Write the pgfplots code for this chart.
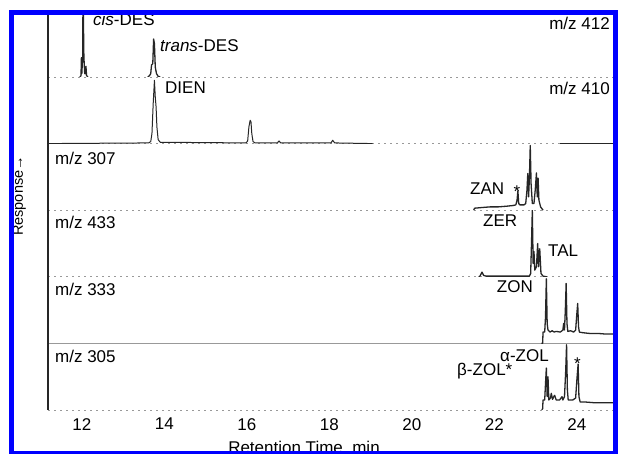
\documentclass[border=0pt]{standalone}
\usepackage{fontspec}
\setmainfont{Liberation Sans}
\usepackage{pgfplots}
\pgfplotsset{compat=1.18}
\newcommand{\lab}{\fontsize{17}{20}\selectfont}
\pgfplotsset{
 panel/.style={
  scale only axis, width=566pt, height=66.6pt,
  xmin=11.18, xmax=24.9, ymin=0, ymax=1,
  axis x line*=bottom, axis y line*=left,
  x axis line style={-, draw=gray!80, line width=0.8pt, dash pattern=on 1.5pt off 4.5pt},
  y axis line style={-, draw=black!85, line width=2pt},
  ytick=\empty, xtick=\empty,
  anchor=south west,
 },
 trace/.style={black!85, line width=1.3pt, line join=round, no markers}
}
\begin{document}
\begin{tikzpicture}[x=1pt,y=1pt]
\useasboundingbox (0,0) rectangle (619,454);
\fill[white] (0,0) rectangle (619,454);
% m/z 412
\begin{axis}[panel, at={(48pt,377pt)}]
\addplot[trace] coordinates {(11.95,0) (11.98,0.02) (11.99,0.29) (12.0,0.05) (12.02,0.3) (12.03,1.3) (12.05,0.3) (12.07,0.05) (12.09,0.05) (12.1,0.16) (12.115,0.02) (12.15,0)};
\addplot[trace] coordinates {(13.60,0) (13.64,0.02) (13.67,0.05) (13.69,0.18) (13.72,0.2) (13.74,0.57) (13.76,0.5) (13.78,0.15) (13.81,0.05) (13.85,0.01) (13.9,0)};
\end{axis}
% m/z 410
\begin{axis}[panel, at={(48pt,310.4pt)}]
\addplot[trace, line width=1pt] coordinates {(11.18,0) (13.62,0.01) (13.67,0.03) (13.70,0.15) (13.73,0.6) (13.76,0.95) (13.78,0.7) (13.80,0.55) (13.82,0.25) (13.85,0.06) (13.9,0.02) (15.98,0.01) (16.02,0.04) (16.05,0.25) (16.08,0.35) (16.1,0.33) (16.12,0.15) (16.15,0.03) (16.2,0.01) (16.74,0.01) (16.78,0.04) (16.82,0.01) (18.04,0.01) (18.08,0.05) (18.13,0.01) (19.05,0)};
\addplot[trace, line width=0.7pt] coordinates {(23.6,0.01) (24.9,0.01)};
\end{axis}
% m/z 307
\begin{axis}[panel, at={(48pt,243.8pt)}]
\addplot[trace] coordinates {(21.50,0) (21.52,0.03) (21.7,0.04) (21.9,0.05) (22.1,0.05) (22.3,0.06) (22.45,0.07) (22.52,0.08) (22.55,0.15) (22.57,0.29) (22.59,0.1) (22.62,0.08) (22.72,0.08) (22.76,0.1) (22.79,0.3) (22.81,0.55) (22.83,0.2) (22.85,0.5) (22.87,0.97) (22.89,0.4) (22.92,0.1) (22.96,0.1) (22.99,0.3) (23.02,0.56) (23.04,0.2) (23.06,0.48) (23.08,0.15) (23.12,0.05) (23.18,0.0)};
\end{axis}
% m/z 433
\begin{axis}[panel, at={(48pt,177.2pt)}]
\addplot[trace] coordinates {(21.62,0) (21.65,0.01) (21.70,0.07) (21.74,0.02) (21.8,0.01) (22.85,0.01) (22.88,0.05) (22.90,0.5) (22.92,1.0) (22.94,0.2) (22.96,0.38) (22.98,0.1) (23.02,0.15) (23.05,0.5) (23.07,0.15) (23.10,0.42) (23.13,0.05) (23.18,0.01) (23.27,0)};
\end{axis}
% m/z 333
\begin{axis}[panel, at={(48pt,110.6pt)}, x axis line style={-, draw=gray!80, line width=0.8pt, solid}]
\addplot[trace] coordinates {(23.14,0) (23.17,0.0) (23.18,0.17) (23.22,0.17) (23.24,0.4) (23.26,0.97) (23.28,0.3) (23.30,0.2) (23.35,0.17) (23.4,0.19) (23.45,0.17) (23.5,0.18) (23.6,0.17) (23.66,0.2) (23.68,0.3) (23.70,0.2) (23.72,0.5) (23.74,0.9) (23.76,0.3) (23.78,0.18) (23.85,0.19) (23.92,0.17) (23.97,0.2) (24.0,0.45) (24.02,0.6) (24.04,0.25) (24.06,0.17) (24.15,0.16) (24.3,0.15) (24.5,0.15) (24.7,0.14) (24.9,0.14)};
\end{axis}
% m/z 305
\begin{axis}[panel, at={(48pt,44pt)}, xtick={12,14,...,24}, major tick length=0pt,
  xticklabel style={font=\lab, inner sep=0pt, yshift=-8pt},
  /pgf/number format/assume math mode=true]
\addplot[trace] coordinates {(23.15,0.0) (23.17,0.02) (23.18,0.15) (23.22,0.15) (23.24,0.4) (23.26,0.63) (23.28,0.2) (23.30,0.5) (23.32,0.15) (23.36,0.18) (23.38,0.25) (23.41,0.16) (23.44,0.2) (23.46,0.22) (23.5,0.15) (23.58,0.15) (23.64,0.2) (23.66,0.15) (23.70,0.2) (23.73,0.6) (23.75,0.98) (23.77,0.3) (23.79,0.15) (23.9,0.15) (23.97,0.18) (24.0,0.45) (24.03,0.69) (24.05,0.2) (24.08,0.12) (24.2,0.12) (24.4,0.11) (24.6,0.11) (24.9,0.11)};
\end{axis}
% labels
\begin{scope}[every node/.style={inner sep=0pt, font=\lab}]
\node[anchor=base west] at (93,428) {\textit{cis}-DES};
\node[anchor=base west] at (160,402) {\textit{trans}-DES};
\node[anchor=base east] at (610,424.5) {m/z 412};
\node[anchor=base west] at (165,360) {DIEN};
\node[anchor=base east] at (610,359) {m/z 410};
\node[anchor=base west] at (55,289) {m/z 307};
\node[anchor=base west] at (470,259) {ZAN};
\node[anchor=base] at (517,256) {*};
\node[anchor=base west] at (55,225) {m/z 433};
\node[anchor=base west] at (483,227) {ZER};
\node[anchor=base west] at (548,197) {TAL};
\node[anchor=base west] at (55,158) {m/z 333};
\node[anchor=base east] at (533,161) {ZON};
\node[anchor=base west] at (55,91) {m/z 305};
\node[anchor=base west] at (500,92) {α-ZOL};
\node[anchor=base west] at (457,78) {β-ZOL*};
\node[anchor=base] at (577.5,84) {*};
\node[anchor=base] at (304,0.5) {Retention Time, min};
\end{scope}
\node[rotate=90, inner sep=0pt] at (19.5,258) {\fontsize{14.5}{17}\selectfont Response→};
\draw[blue, line width=5pt] (11.7,441.5) rectangle (615.5,0.8);
\end{tikzpicture}
\end{document}
